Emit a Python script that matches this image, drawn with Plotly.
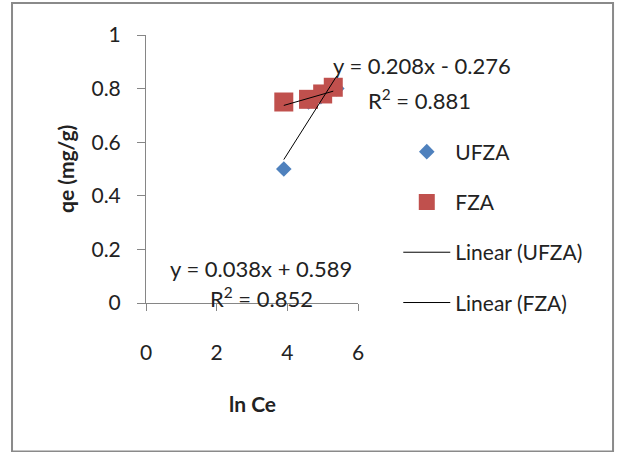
import plotly.graph_objects as go

# ---- data ----
ufza_x = [3.9, 4.6, 4.95, 5.4]
ufza_y = [0.50, 0.75, 0.77, 0.80]
fza_x = [3.9, 4.6, 5.0, 5.3]
fza_y = [0.75, 0.76, 0.78, 0.805]
ufza_fit = [0.208, -0.276]   # slope, intercept
fza_fit = [0.038, 0.589]
ufza_r2 = 0.881
fza_r2 = 0.852
x_ticks = [0, 2, 4, 6]
y_ticks = [0, 0.2, 0.4, 0.6, 0.8, 1]

FONT = "Lato"
FS = 21
AX = "#868686"

def fit_line(xs, coef):
    xr = [min(xs), max(xs)]
    return xr, [coef[0] * v + coef[1] for v in xr]

fig = go.Figure()
fig.add_trace(go.Scatter(x=ufza_x, y=ufza_y, mode="markers", name="UFZA", legendgroup="a",
                         marker=dict(symbol="diamond", size=12, color="#4F81BD")))
fig.add_trace(go.Scatter(x=fza_x, y=fza_y, mode="markers", name="FZA", legendgroup="b",
                         marker=dict(symbol="square", size=19, color="#C0504D")))
lx, ly = fit_line(ufza_x, ufza_fit)
fig.add_trace(go.Scatter(x=lx, y=ly, mode="lines", name="Linear (UFZA)", legendgroup="c",
                         line=dict(color="black", width=1)))
lx, ly = fit_line(fza_x, fza_fit)
fig.add_trace(go.Scatter(x=lx, y=ly, mode="lines", name="Linear (FZA)", legendgroup="d",
                         line=dict(color="black", width=1)))

def eq_text(coef):
    sign = "-" if coef[1] < 0 else "+"
    return f"y = {coef[0]:.3f}x {sign} {abs(coef[1]):.3f}"

annos = [
    dict(x=1.302, y=0.888, text=eq_text(ufza_fit)),
    dict(x=1.292, y=0.761, text=f"R<sup>2</sup> = {ufza_r2:.3f}"),
    dict(x=0.542, y=0.13, text=eq_text(fza_fit)),
    dict(x=0.547, y=0.02, text=f"R<sup>2</sup> = {fza_r2:.3f}"),
]
for a in annos:
    fig.add_annotation(x=a["x"], y=a["y"], text=a["text"], xref="paper", yref="paper",
                       xanchor="center", yanchor="middle",
                       showarrow=False, font=dict(family=FONT, size=22, color="#222"))

fig.add_annotation(x=0.5, y=-0.375, xref="paper", yref="paper", text="<b>ln Ce</b>",
                   xanchor="center", yanchor="middle",
                   showarrow=False, font=dict(family=FONT, size=FS, color="#222"))
fig.add_annotation(x=-0.382, y=0.5, xref="paper", yref="paper", text="<b>qe (mg/g)</b>",
                   xanchor="center", yanchor="middle",
                   textangle=-90, showarrow=False, font=dict(family=FONT, size=FS, color="#222"))

# outer chart border
fig.add_shape(type="rect", xref="paper", yref="paper",
              x0=-0.632, x1=2.203, y0=-0.554, y1=1.1195,
              line=dict(color="#8a8a8a", width=2), fillcolor="rgba(0,0,0,0)")

fig.update_layout(
    width=622, height=452,
    margin=dict(l=146, r=264, t=35, b=149),
    paper_bgcolor="white", plot_bgcolor="white",
    font=dict(family=FONT, size=FS, color="#222"),
    showlegend=True,
    legend=dict(x=1.19, y=0.64, xanchor="left", yanchor="top", tracegroupgap=20,
                itemwidth=47, font=dict(family=FONT, size=FS, color="#222"),
                bgcolor="rgba(0,0,0,0)"),
    xaxis=dict(range=[0, 6], tickvals=x_ticks, showgrid=False, zeroline=False,
               showline=True, linecolor=AX, linewidth=1, ticks="outside", ticklen=7,
               tickcolor=AX, ticklabelstandoff=24),
    yaxis=dict(range=[0, 1], tickvals=y_ticks, showgrid=False, zeroline=False,
               showline=True, linecolor=AX, linewidth=1, ticks="outside", ticklen=8,
               tickcolor=AX, ticklabelstandoff=12),
)

fig.write_html("out.html")
